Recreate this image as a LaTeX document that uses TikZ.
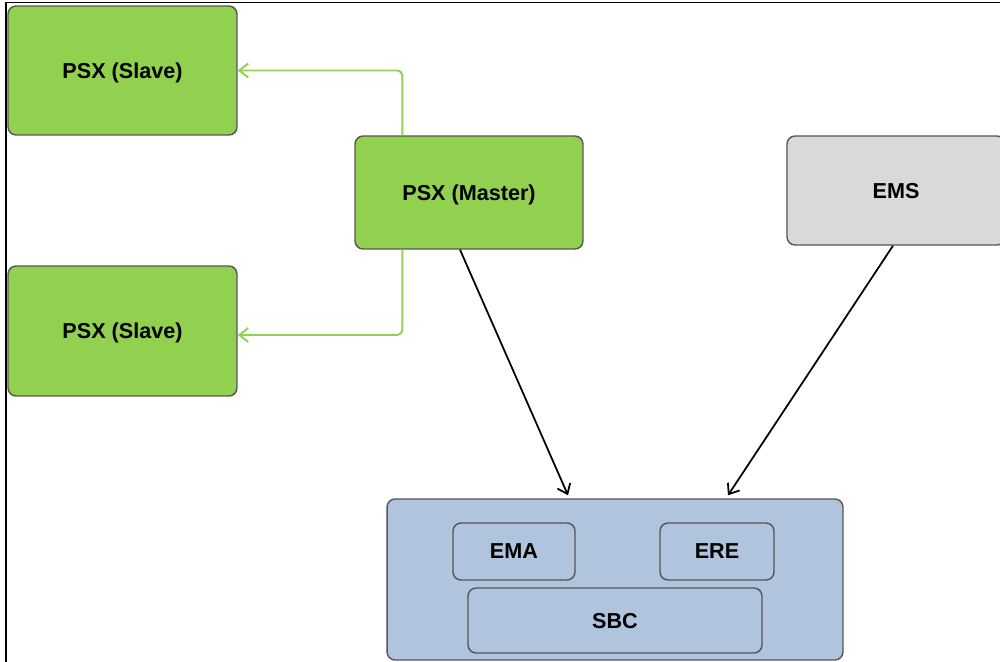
\documentclass[tikz,border=0pt]{standalone}
\usepackage{fontspec}
\setmainfont{Liberation Sans}
\usetikzlibrary{arrows, arrows.meta}
\usetikzlibrary{calc}

\definecolor{psxgreen}{HTML}{92D050}
\definecolor{emsgrey}{HTML}{D9D9D9}
\definecolor{sbcblue}{HTML}{B0C4DE}
\definecolor{boxline}{HTML}{555555}

\tikzset{
    box/.style={rectangle, rounded corners=0.16cm, draw=boxline, line width=0.8pt,
        inner sep=0pt, text depth=0pt, font=\fontsize{12.3}{14}\selectfont\bfseries},
    greenbox/.style={box, fill=psxgreen},
    greybox/.style={box, fill=emsgrey},
    bluebox/.style={box, fill=sbcblue},
    greenlink/.style={draw=psxgreen, line width=1.1pt, rounded corners=0.1cm,
        -{Straight Barb[length=1.8mm, width=2.8mm]}},
    blacklink/.style={draw=black, line width=1pt,
        -{Straight Barb[length=1.8mm, width=2.8mm]}}
}

\begin{document}
\begin{tikzpicture}[x=0.02cm, y=-0.02cm]
    \useasboundingbox (0,0) rectangle (1000,662);
    \clip (0,0) rectangle (1000,662);
    \draw[line width=1.1pt] (6,662) -- (6,2.5) -- (1000,2.5);

    \node[greenbox, minimum width=4.58cm, minimum height=2.58cm] (slave1) at (122.5,70.5) {PSX (Slave)};
    \node[greenbox, minimum width=4.58cm, minimum height=2.6cm] (slave2) at (122.5,331) {PSX (Slave)};
    \node[greenbox, minimum width=4.56cm, minimum height=2.26cm] (master) at (469,192.5) {PSX (Master)};
    \node[greybox, minimum width=4.36cm, minimum height=2.18cm] (ems) at (896,190.5) {EMS};

    \node[bluebox, minimum width=9.12cm, minimum height=3.22cm] (sbcnode) at (615,579.5) {};
    \node[bluebox, minimum width=2.44cm, minimum height=1.14cm] (ema) at (514,551.5) {EMA};
    \node[bluebox, minimum width=2.28cm, minimum height=1.14cm] (ere) at (717,551.5) {ERE};
    \node[bluebox, minimum width=5.88cm, minimum height=1.3cm] (sbc) at (615,620.5) {SBC};

    \draw[greenlink] ([xshift=0.96cm]master.north west) |- (slave1.east);
    \draw[greenlink] ([xshift=0.96cm]master.south west) |- ([yshift=-0.08cm]slave2.east);

    \draw[blacklink] ([xshift=-0.18cm]master.south) -- ([xshift=-0.94cm, yshift=0.06cm]sbcnode.north);
    \draw[blacklink] ([xshift=-0.06cm]ems.south) -- ([xshift=2.26cm, yshift=0.06cm]sbcnode.north);
\end{tikzpicture}
\end{document}
